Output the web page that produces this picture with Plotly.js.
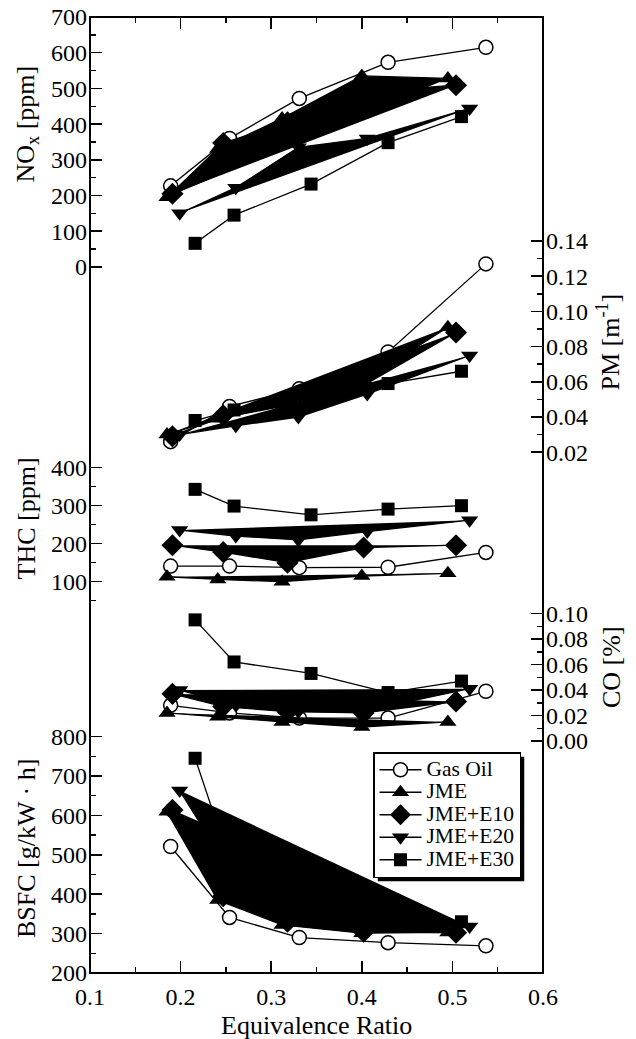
<!DOCTYPE html>
<html><head><meta charset="utf-8">
<script src="https://cdn.plot.ly/plotly-3.0.1.min.js"></script>
<style>html,body{margin:0;padding:0;background:#fff}#chart{width:636px;height:1039px}</style>
</head><body><div id="chart"></div>
<script>
// ---------- data ----------
const seriesNames = ['Gas Oil', 'JME', 'JME+E10', 'JME+E20', 'JME+E30'];

// equivalence ratio of each series
const gasOilX = [0.189, 0.254, 0.331, 0.429, 0.537];
const jmeX    = [0.185, 0.241, 0.312, 0.400, 0.495];
const e10X    = [0.191, 0.247, 0.318, 0.402, 0.504];
const e20X    = [0.199, 0.261, 0.330, 0.406, 0.519];
const e30X    = [0.216, 0.259, 0.344, 0.429, 0.510];

// NOx [ppm]
const noxGasOil = [227, 360, 472, 573, 615];
const noxJME    = [195, 330, 416, 535, 528];
const noxE10    = [205, 347, 405, 490, 509];
const noxE20    = [150, 222, 335, 360, 444];
const noxE30    = [66, 145, 232, 348, 421];

// PM [1/m]
const pmGasOil = [0.026, 0.046, 0.056, 0.077, 0.127];
const pmJME    = [0.030, 0.039, 0.046, 0.060, 0.091];
const pmE10    = [0.029, 0.041, 0.047, 0.058, 0.088];
const pmE20    = [0.030, 0.035, 0.040, 0.053, 0.075];
const pmE30    = [0.038, 0.044, 0.048, 0.059, 0.066];

// THC [ppm]
const thcGasOil = [141, 141, 137, 138, 177];
const thcJME    = [113, 106, 100, 115, 122];
const thcE10    = [196, 178, 150, 190, 196];
const thcE20    = [236, 220, 210, 232, 262];
const thcE30    = [343, 299, 276, 291, 300];

// CO [%]
const coGasOil = [0.028, 0.022, 0.018, 0.018, 0.039];
const coJME    = [0.022, 0.019, 0.015, 0.011, 0.015];
const coE10    = [0.037, 0.027, 0.023, 0.022, 0.031];
const coE20    = [0.040, 0.028, 0.023, 0.024, 0.041];
const coE30    = [0.095, 0.062, 0.053, 0.038, 0.047];

// BSFC [g/kW h]
const bsfcGasOil = [521, 341, 290, 277, 269];
const bsfcJME    = [609, 385, 322, 301, 303];
const bsfcE10    = [614, 395, 330, 305, 302];
const bsfcE20    = [663, 435, 340, 310, 318];
const bsfcE30    = [745, 450, 370, 335, 330];

// ticks
const xTicks = [0.1, 0.2, 0.3, 0.4, 0.5, 0.6];
const xTickLabels = ['0.1', '0.2', '0.3', '0.4', '0.5', '0.6'];
const xMinor = [0.15, 0.25, 0.35, 0.45, 0.55];
const noxTicks = [0, 100, 200, 300, 400, 500, 600, 700];
const noxMinor = [50, 150, 250, 350, 450, 550, 650];
const pmTicks = [0.02, 0.04, 0.06, 0.08, 0.10, 0.12, 0.14];
const pmTickLabels = ['0.02', '0.04', '0.06', '0.08', '0.10', '0.12', '0.14'];
const pmMinor = [0.03, 0.05, 0.07, 0.09, 0.11, 0.13];
const thcTicks = [100, 200, 300, 400];
const thcMinor = [50, 150, 250, 350];
const coTicks = [0, 0.02, 0.04, 0.06, 0.08, 0.10];
const coTickLabels = ['0.00', '0.02', '0.04', '0.06', '0.08', '0.10'];
const coMinor = [0.01, 0.03, 0.05, 0.07, 0.09];
const bsfcTicks = [200, 300, 400, 500, 600, 700, 800];
const bsfcMinor = [250, 350, 450, 550, 650, 750];

// ---------- build ----------
const FONT = 'Liberation Serif';
const xs = [gasOilX, jmeX, e10X, e20X, e30X];
const panels = [
  {axis: 'y',  values: [noxGasOil, noxJME, noxE10, noxE20, noxE30]},
  {axis: 'y2', values: [pmGasOil, pmJME, pmE10, pmE20, pmE30]},
  {axis: 'y3', values: [thcGasOil, thcJME, thcE10, thcE20, thcE30]},
  {axis: 'y4', values: [coGasOil, coJME, coE10, coE20, coE30]},
  {axis: 'y5', values: [bsfcGasOil, bsfcJME, bsfcE10, bsfcE20, bsfcE30]}
];
const markerStyles = [
  {symbol: 'circle', size: 14, color: 'white', line: {color: 'black', width: 1.5}},
  {symbol: 'triangle-up', size: 15, color: 'black', line: {width: 0}},
  {symbol: 'diamond', size: 17, color: 'black', line: {width: 0}},
  {symbol: 'triangle-down', size: 15, color: 'black', line: {width: 0}},
  {symbol: 'square', size: 13, color: 'black', line: {width: 0}}
];
const filled = [false, true, true, true, false];

const traces = [];
panels.forEach((p, pi) => {
  p.values.forEach((vals, si) => {
    if (filled[si]) {
      traces.push({x: xs[si], y: vals, xaxis: 'x', yaxis: p.axis, type: 'scatter',
        mode: 'none', fill: 'toself', fillcolor: 'black', showlegend: false, hoverinfo: 'skip'});
    }
    traces.push({
      x: xs[si], y: vals, xaxis: 'x', yaxis: p.axis, type: 'scatter', mode: 'lines+markers',
      name: '<span style="font-size:21.5px">' + seriesNames[si] + '</span>',
      legendgroup: seriesNames[si], showlegend: pi === panels.length - 1,
      line: {color: 'black', width: 1.3}, marker: markerStyles[si], cliponaxis: false
    });
  });
});

// plot area in px
const L = 90, R = 543, T = 17, B = 973, W = 636, H = 1039;
const px2x = px => (px - L) / (R - L);
const px2y = py => (B - py) / (B - T);
// value range shown at bottom/top of plot area for each axis
function rangeFor(v0, py0, pxPerUnit) {
  return [v0 - (B - py0) / pxPerUnit, v0 + (py0 - T) / pxPerUnit];
}

const tickFont = {family: FONT, size: 24, color: 'black'};
function minor(vals) {
  return {tickmode: 'array', tickvals: vals, ticks: 'inside', ticklen: 6, tickwidth: 1.5, tickcolor: 'black', showgrid: false};
}
function yAxis(extra) {
  return Object.assign({
    showgrid: false, zeroline: false, showline: false, ticks: 'inside', ticklen: 12, tickwidth: 1.5,
    tickcolor: 'black', tickmode: 'array', tickfont: tickFont, fixedrange: true, anchor: 'x', ticklabelstandoff: 2
  }, extra);
}

const titleFont = {family: FONT, size: 26, color: 'black'};
const layout = {
  width: W, height: H, margin: {l: L, r: W - R, t: T, b: H - B, pad: 0},
  paper_bgcolor: 'white', plot_bgcolor: 'white', font: {family: FONT, color: 'black'},
  showlegend: true,
  xaxis: {range: [0.1, 0.6], showgrid: false, zeroline: false, showline: false, ticks: 'inside', ticklen: 12,
    tickwidth: 1.5, tickcolor: 'black', mirror: 'ticks', tickmode: 'array', tickvals: xTicks, ticktext: xTickLabels,
    minor: minor(xMinor), tickfont: tickFont, fixedrange: true, anchor: 'y', ticklabelstandoff: 7},
  yaxis: yAxis({domain: [0, 1], side: 'left', range: rangeFor(0, 266.9, 0.357), tickvals: noxTicks, minor: minor(noxMinor)}),
  yaxis2: yAxis({overlaying: 'y', side: 'right', range: rangeFor(0.02, 452.2, 1760), tickvals: pmTicks, ticktext: pmTickLabels, minor: minor(pmMinor)}),
  yaxis3: yAxis({overlaying: 'y', side: 'left', range: rangeFor(100, 581.7, 0.38), tickvals: thcTicks, minor: minor(thcMinor)}),
  yaxis4: yAxis({overlaying: 'y', side: 'right', range: rangeFor(0, 741, 1275), tickvals: coTicks, ticktext: coTickLabels, minor: minor(coMinor)}),
  yaxis5: yAxis({overlaying: 'y', side: 'left', range: rangeFor(200, 973, 0.394), tickvals: bsfcTicks, minor: minor(bsfcMinor)}),
  legend: {x: px2x(373), y: px2y(752), xanchor: 'left', yanchor: 'top', bgcolor: 'white', bordercolor: 'black',
    borderwidth: 1.5, font: {family: FONT, size: 15, color: 'black'}, itemwidth: 42, traceorder: 'normal'},
  shapes: [
    {type: 'rect', xref: 'paper', yref: 'paper', x0: 0, x1: 1, y0: 0, y1: 1, line: {color: 'black', width: 2}, layer: 'above'}
  ],
  annotations: [
    {text: 'NO<sub>x</sub> [ppm]', x: px2x(26.5), y: px2y(124), textangle: -90},
    {text: 'PM [m<sup>-1</sup>]', x: px2x(609), y: px2y(342.5), textangle: -90},
    {text: 'THC [ppm]', x: px2x(26), y: px2y(518.5), textangle: -90},
    {text: 'CO [%]', x: px2x(611), y: px2y(667), textangle: -90},
    {text: 'BSFC [g/kW · h]', x: px2x(26), y: px2y(849), textangle: -90},
    {text: 'Equivalence Ratio', x: 0.5, y: px2y(1025), textangle: 0, font: {family: FONT, size: 26, color: 'black'}}
  ].map(a => Object.assign({xref: 'paper', yref: 'paper', showarrow: false, xanchor: 'center', yanchor: 'middle', font: titleFont}, a))
};

Plotly.newPlot('chart', traces, layout, {displayModeBar: false, staticPlot: true}).then(gd => {
  // drop shadow behind the legend box
  const bg = document.querySelector('.legend .bg');
  if (!bg) return;
  const r = bg.getBoundingClientRect();
  const c = document.getElementById('chart').getBoundingClientRect();
  const l = r.left - c.left, t = r.top - c.top;
  const off = 4;
  const shapes = layout.shapes.concat([{
    type: 'rect', xref: 'paper', yref: 'paper', layer: 'above',
    x0: px2x(l + off), x1: px2x(l + r.width + off), y0: px2y(t + r.height + off), y1: px2y(t + off),
    fillcolor: 'black', line: {width: 0}
  }]);
  return Plotly.relayout(gd, {shapes: shapes});
});
</script>
</body></html>
